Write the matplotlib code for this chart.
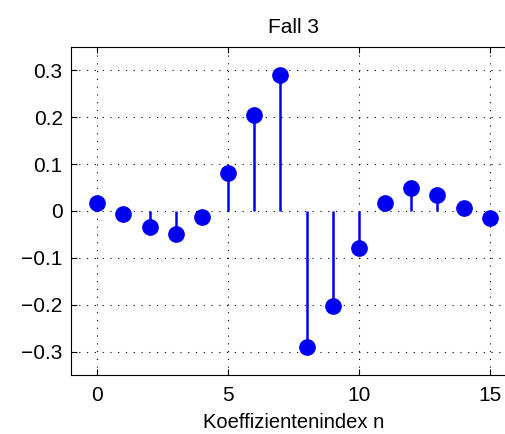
import matplotlib
matplotlib.use("Agg")
import matplotlib.pyplot as plt

plt.rcParams["font.family"] = ["Liberation Sans", "DejaVu Sans"]

# Koeffizienten
n = list(range(16))
h = [0.017, -0.007, -0.035, -0.049, -0.014, 0.081, 0.204, 0.291,
     -0.291, -0.203, -0.080, 0.016, 0.049, 0.034, 0.007, -0.016]

fig = plt.figure(figsize=(5.05, 4.34), dpi=100)
# Achse geht rechts über den Bildrand hinaus (wie im Original abgeschnitten)
ax = fig.add_axes([0.1406, 0.136, 0.881, 0.756])

markers, stems, base = ax.stem(n, h, basefmt=" ")
plt.setp(stems, color="#0000f0", linewidth=1.8)
plt.setp(markers, color="#0000f0", markersize=11)

ax.set_xlim(-1, 16)
ax.set_ylim(-0.35, 0.35)
ax.set_xticks([0, 5, 10, 15])
ax.set_yticks([-0.3, -0.2, -0.1, 0, 0.1, 0.2, 0.3])
ax.set_yticklabels(["\u22120.3", "\u22120.2", "\u22120.1", "0", "0.1", "0.2", "0.3"])
ax.grid(True, color="black", linestyle=(0, (1, 6)), linewidth=0.8)
ax.tick_params(direction="in", top=True, right=True, labelsize=15, length=4)
ax.tick_params(axis="x", pad=8)
ax.tick_params(axis="y", pad=6)

ax.set_title("Fall 3", fontsize=15, pad=10)
ax.set_xlabel("Koeffizientenindex n", fontsize=14.5, labelpad=6)

fig.savefig("out.png", dpi=100)
